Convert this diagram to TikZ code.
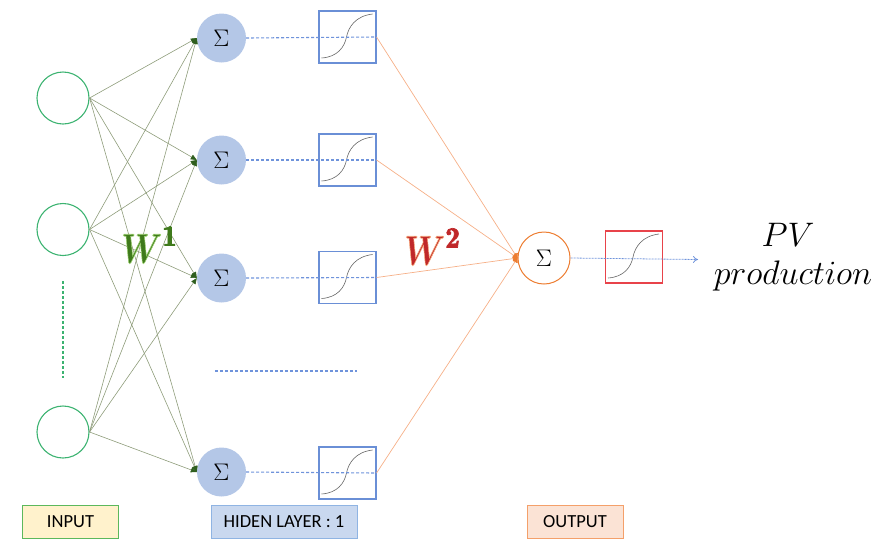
\RequirePackage{fix-cm}
\documentclass[tikz,border=0pt]{standalone}
\usepackage{amsmath}
\usepackage{fontspec}
\usetikzlibrary{arrows.meta}
\newfontfamily\lblfont{Carlito}
\definecolor{ingreen}{HTML}{3CB371}
\definecolor{edgegreen}{HTML}{8E9C7A}
\definecolor{tipgreen}{HTML}{2E5E1E}
\definecolor{sumblue}{HTML}{B4C7E7}
\definecolor{boxblue}{HTML}{6A8FD6}
\definecolor{dashblue}{HTML}{6F93DB}
\definecolor{orline}{HTML}{F6B088}
\definecolor{orcol}{HTML}{ED7D31}
\definecolor{redbox}{HTML}{E8434A}
\definecolor{wgreen}{HTML}{3F7A1C}
\definecolor{wred}{HTML}{C0282A}
\definecolor{infill}{HTML}{FFF2CC}
\definecolor{indraw}{HTML}{5CB85C}
\definecolor{hidfill}{HTML}{C9D8EF}
\definecolor{hiddraw}{HTML}{8FB4E3}
\definecolor{outfill}{HTML}{FBE3D5}
\definecolor{outdraw}{HTML}{F4A06A}
% glowing text: fill + light stroke
\newcommand{\glowtext}[2]{\special{pdf:literal q 2 Tr 0.7 w #1 RG}#2\special{pdf:literal Q}}
\tikzset{
  innode/.style={circle,draw=ingreen,line width=1.1pt,minimum size=52pt,inner sep=0pt},
  sumnode/.style={circle,fill=sumblue,minimum size=49pt,inner sep=0pt,font=\fontsize{24}{24}\selectfont},
  outnode/.style={circle,draw=orcol,fill=white,line width=1pt,minimum size=52pt,inner sep=0pt,font=\fontsize{24}{24}\selectfont},
  actbox/.style={rectangle,draw=boxblue,line width=1.1pt,minimum width=57pt,minimum height=52pt,inner sep=0pt},
  redact/.style={actbox,draw=redbox},
  sigcurve/.style={draw=gray!80!black,line width=0.6pt},
  wedge/.style={draw=edgegreen,line width=0.6pt,-{Triangle[length=6pt,width=5pt,color=tipgreen]}},
  oedge/.style={draw=orline,line width=0.7pt,-{Latex[length=5pt,width=7pt,round,color=orcol]}},
  dashln/.style={draw=dashblue,dash pattern=on 3pt off 2pt,line width=1.1pt},
  lbl/.style={rectangle,line width=1pt,minimum height=33pt,inner sep=0pt,font=\lblfont\fontsize{18.5}{18.5}\selectfont},
  wlabel/.style={anchor=base west,inner sep=0pt,font=\fontsize{42}{42}\selectfont},
  pvtext/.style={anchor=base,inner sep=0pt,font=\fontsize{34}{34}\selectfont},
}
\begin{document}
\begin{tikzpicture}[x=1pt,y=-1pt]
\useasboundingbox (0,0) rectangle (880,542);
% input
\node[innode] (i1) at (63,98) {};
\node[innode] (i2) at (63,229.5) {};
\node[innode] (i3) at (63,432) {};
% hidden sums
\node[sumnode] (s1) at (221.5,38) {$\Sigma$};
\node[sumnode] (s2) at (221.5,160) {$\Sigma$};
\node[sumnode] (s3) at (221.5,278) {$\Sigma$};
\node[sumnode] (s4) at (221.5,472) {$\Sigma$};
% activation boxes
\node[actbox] (b1) at (347.5,37) {};
\node[actbox] (b2) at (347.5,160) {};
\node[actbox] (b3) at (347.5,277.5) {};
\node[actbox] (b4) at (347.5,473) {};
% output
\node[outnode] (o) at (544,258) {$\Sigma$};
\node[redact] (ob) at (634,257) {};
% sigmoid curves
\foreach \b in {b1,b2,b3,b4,ob}{
  \draw[sigcurve,shift={(\b.center)}] (-26,21) .. controls (-10,20) and (-3,10) .. (-1,0) .. controls (1,-10) and (8,-21) .. (25,-23);
}
% input -> hidden
\foreach \i in {i1,i2,i3}{
  \foreach \s in {s1,s2,s3,s4}{
    \draw[wedge] (\i.east) -- (\s.west);
  }
}
% sum -> activation
\foreach \k in {1,2,3,4}{
  \draw[dashln] (s\k.east) -- (b\k.east);
}
% hidden -> output
\foreach \b in {b1,b2,b3,b4}{
  \draw[oedge] (\b.east) -- (o.west);
}
% output arrow
\coordinate (end) at (698,259.5);
\draw[draw=dashblue,dash pattern=on 2pt off 1pt,line width=0.8pt,-{To[length=5pt,width=7pt]}] (o.east) -- (end);
% ellipsis lines
\draw[draw=ingreen,dash pattern=on 3pt off 2pt,line width=1.2pt] (63,281) -- (63,378);
\draw[dashln] (215,371) -- (357,371);
% weight labels
\node[wlabel,text=wgreen] (w1) at (121,263) {\glowtext{0.62 0.82 0.45}{$\scalebox{0.78}[1]{$\boldsymbol{W}$}^{\mathbf{1}}$}};
\node[wlabel,text=wred] (w2) at (404,265) {\glowtext{0.97 0.68 0.5}{$\scalebox{0.78}[1]{$\boldsymbol{W}$}^{\mathbf{2}}$}};
% result text
\node[pvtext] (pv1) at (788,246) {$PV$};
\node[pvtext] (pv2) at (793,284) {$production$};
% layer labels
\node[lbl,fill=infill,draw=indraw,minimum width=96pt] (lin) at (70.5,521.5) {INPUT};
\node[lbl,fill=hidfill,draw=hiddraw,minimum width=146pt] (lhid) at (284,521.5) {HIDEN LAYER : 1};
\node[lbl,fill=outfill,draw=outdraw,minimum width=96pt] (lout) at (575,521.5) {OUTPUT};
\end{tikzpicture}
\end{document}
